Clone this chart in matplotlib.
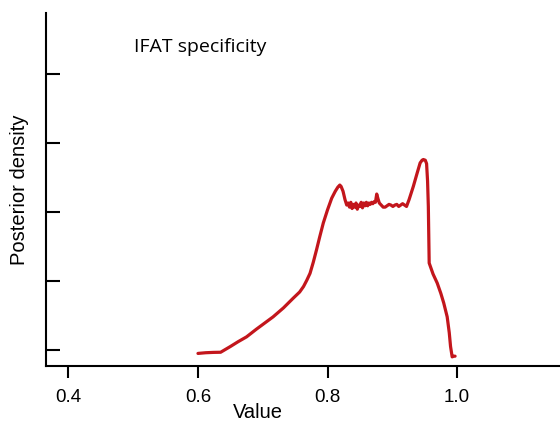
import matplotlib
matplotlib.use("Agg")
import matplotlib.pyplot as plt

# posterior density of IFAT specificity
value = [
    0.600, 0.612, 0.624, 0.635, 0.650, 0.662, 0.675, 0.690, 0.703, 0.716,
    0.732, 0.747, 0.757, 0.763, 0.768, 0.773, 0.778, 0.783, 0.788, 0.7935,
    0.800, 0.8065, 0.812, 0.816, 0.819, 0.821, 0.824, 0.827, 0.8297, 0.832,
    0.834, 0.836, 0.838, 0.840, 0.842, 0.844, 0.846, 0.848, 0.850, 0.852,
    0.854, 0.856, 0.858, 0.860, 0.862, 0.864, 0.866, 0.868, 0.870, 0.872,
    0.874, 0.876, 0.878, 0.880, 0.883, 0.886, 0.889, 0.892, 0.895, 0.898,
    0.901, 0.904, 0.907, 0.910, 0.913, 0.916, 0.919, 0.922, 0.926, 0.9325,
    0.938, 0.943, 0.946, 0.948, 0.951, 0.953, 0.9545, 0.9557, 0.957, 0.963,
    0.9694, 0.975, 0.9795, 0.9848, 0.988, 0.990, 0.9925, 0.995, 0.997,
]
density = [
    -0.05, -0.04, -0.035, -0.033, 0.05, 0.12, 0.19, 0.30, 0.39, 0.48,
    0.61, 0.75, 0.84, 0.92, 1.01, 1.11, 1.27, 1.45, 1.64, 1.84,
    2.03, 2.20, 2.30, 2.36, 2.39, 2.37, 2.30, 2.18, 2.10, 2.13,
    2.07, 2.14, 2.05, 2.11, 2.07, 2.13, 2.04, 2.10, 2.08, 2.14,
    2.06, 2.13, 2.09, 2.14, 2.09, 2.13, 2.11, 2.14, 2.12, 2.15,
    2.14, 2.26, 2.19, 2.13, 2.10, 2.07, 2.07, 2.09, 2.11, 2.10,
    2.08, 2.10, 2.11, 2.08, 2.10, 2.12, 2.10, 2.08, 2.18, 2.37,
    2.55, 2.71, 2.75, 2.76, 2.75, 2.70, 2.45, 2.08, 1.26, 1.10,
    0.97, 0.82, 0.68, 0.48, 0.25, 0.05, -0.10, -0.09, -0.09,
]
x_ticks = [0.4, 0.6, 0.8, 1.0]
y_ticks = [0, 1, 2, 3, 4]

plt.rcParams.update({"font.family": ["Liberation Sans", "DejaVu Sans"]})

fig = plt.figure(figsize=(5.6, 4.23), dpi=100)
ax = fig.add_axes([0.0821, 0.1348, 0.9179, 0.8345])

ax.plot(value, density, color="#c3161c", lw=2.3, solid_joinstyle="round",
        solid_capstyle="round")

ax.set_xlim(0.3653, 1.159)
ax.set_ylim(-0.232, 4.884)
ax.set_xticks(x_ticks)
ax.set_xticklabels(["0.4", "0.6", "0.8", "1.0"])
ax.set_yticks(y_ticks)
ax.set_yticklabels([])

for side in ("top", "right"):
    ax.spines[side].set_visible(False)
for side in ("left", "bottom"):
    ax.spines[side].set_linewidth(1.5)

ax.tick_params(axis="x", direction="out", length=8.5, width=1.5,
               labelsize=13.5, pad=8)
ax.tick_params(axis="y", direction="in", length=10, width=1.5)

ax.set_xlabel("Value", fontsize=14.5)
ax.xaxis.set_label_coords(0.412, -0.105)
ax.set_ylabel("Posterior density", fontsize=14.5)
ax.yaxis.set_label_coords(-0.033, 0.5)

ax.text(0.172, 0.905, "IFAT specificity", transform=ax.transAxes,
        fontsize=14, family=["Open Sans", "DejaVu Sans"], ha="left",
        va="center")

fig.savefig("out.png", dpi=100)
plt.close(fig)
